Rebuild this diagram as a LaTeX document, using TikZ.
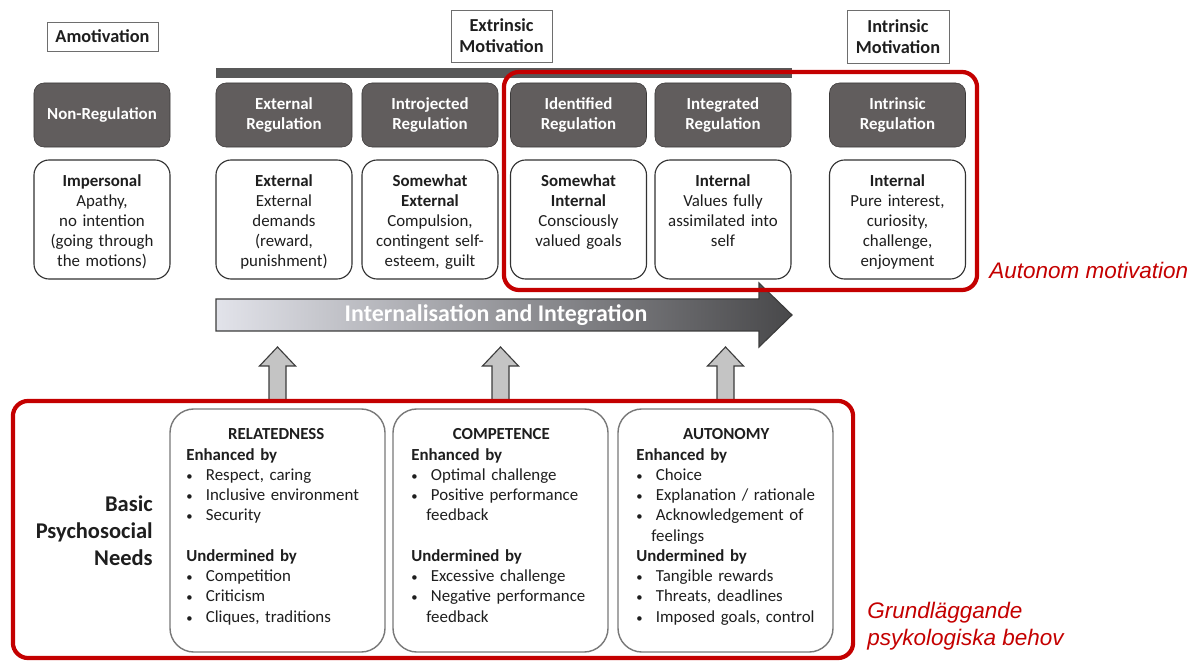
\documentclass[tikz,border=0pt]{standalone}
\usepackage{fontspec}
\setmainfont{Carlito}
\newfontfamily\arialfont{Liberation Sans}
\usepackage{xcolor}
\definecolor{regdark}{RGB}{97,93,93}
\definecolor{regline}{RGB}{60,58,58}
\definecolor{descline}{RGB}{50,50,50}
\definecolor{needline}{RGB}{120,120,120}
\definecolor{headline}{RGB}{110,110,110}
\definecolor{framered}{RGB}{196,0,0}
\definecolor{bardark}{RGB}{88,88,88}
\definecolor{arrlight}{RGB}{226,227,234}
\definecolor{arrdark}{RGB}{72,72,74}
\definecolor{arrline}{RGB}{60,60,60}
\definecolor{upfill}{RGB}{196,196,196}
\definecolor{ink}{RGB}{30,30,30}
\tikzstyle{regbox}=[rectangle, rounded corners=0.25cm, draw=regline, fill=regdark, text=white, align=center, font=\bfseries\fontsize{12}{14}\selectfont, minimum width=3.4cm, minimum height=1.6cm, inner sep=0pt]
\tikzstyle{descbox}=[rectangle, rounded corners=0.38cm, draw=descline, fill=white, line width=0.8pt, minimum width=3.4cm, minimum height=2.975cm, inner sep=0pt]
\tikzstyle{desctext}=[text width=3.3cm, align=center, anchor=base, inner sep=0pt, text=ink, font=\fontsize{12}{14.2}\selectfont]
\tikzstyle{headbox}=[rectangle, draw=headline, fill=white, line width=0.6pt, align=center, text=ink, font=\bfseries\fontsize{13}{14.9}\selectfont, inner sep=0pt]
\tikzstyle{needbox}=[rectangle, rounded corners=0.6cm, draw=needline, fill=white, line width=1pt, minimum width=5.375cm, minimum height=6.075cm, inner sep=0pt]
\tikzstyle{needtext}=[text width=5cm, align=left, anchor=base west, inner sep=0pt, text=ink, font=\fontsize{12}{14.4}\selectfont]
\tikzstyle{redframe}=[rectangle, rounded corners=0.38cm, draw=framered, line width=3pt, inner sep=0pt]
\tikzstyle{redtext}=[text=framered, font=\arialfont\itshape\fontsize{16}{19.1}\selectfont, align=left, anchor=west, inner sep=0pt]
\tikzstyle{blockup}=[draw=arrline, fill=upfill, line width=0.8pt, line join=miter]
\newcommand{\bul}{\makebox[0.49cm][l]{\small\textbullet}}
\newcommand{\needtitle}[1]{\makebox[4.5cm]{\textbf{#1}}}

\begin{document}
\begin{tikzpicture}[x=0.025cm, y=-0.025cm]
\useasboundingbox (0,0) rectangle (1199,662);

\node[headbox, minimum width=2.775cm, minimum height=0.725cm] (amot) at (102.5,36.5) {Amotivation};
\node[headbox, minimum width=2.525cm, minimum height=1.3cm] (extr) at (501.5,36) {Extrinsic\\Motivation};
\node[headbox, minimum width=2.55cm, minimum height=1.325cm] (intr) at (898,36.5) {Intrinsic\\Motivation};
\fill[bardark] (216,68) rectangle (792,78);

\foreach \n/\x/\t in {nonreg/102/Non-Regulation, extreg/284/{External\\Regulation},
  introreg/430/{Introjected\\Regulation}, identreg/578.5/{Identified\\Regulation},
  integreg/723/{Integrated\\Regulation}, intrreg/897.5/{Intrinsic\\Regulation}}
  \node[regbox] (\n) at (\x,115) {\t};

\foreach \n/\x/\t in {
  imp/102/{\textbf{Impersonal}\\Apathy,\\no intention\\(going through\\the motions)},
  ext/284/{\textbf{External}\\External\\demands\\(reward,\\punishment)},
  sext/430/{\textbf{Somewhat}\\\textbf{External}\\Compulsion,\\contingent self-\\esteem, guilt},
  sint/578.5/{\textbf{Somewhat}\\\textbf{Internal}\\Consciously\\valued goals},
  inte/723/{\textbf{Internal}\\Values fully\\assimilated into\\self},
  intn/897.5/{\textbf{Internal}\\Pure interest,\\curiosity,\\challenge,\\enjoyment}}{
  \node[descbox] (\n) at (\x,219.5) {};
  \node[desctext] (\n-txt) at (\x,187) {\t};
}

\shade[left color=arrlight, right color=arrdark, draw=arrline, line width=0.8pt]
  (216,299) -- (759,299) -- (759,283) -- (792,315) -- (759,347) -- (759,331) -- (216,331) -- cycle;
\node[text=white, font=\bfseries\fontsize{17}{20}\selectfont] (integ) at (496,315) {Internalisation and Integration};

\foreach \x in {277.5,500.5,725.5}
  \draw[blockup] (\x-8.5,402) -- (\x-8.5,366) -- (\x-18,366) -- (\x,347) -- (\x+18,366) -- (\x+8.5,366) -- (\x+8.5,402);

\foreach \n/\x in {rel/277.5, comp/500.5, auto/725.5}
  \node[needbox] (\n) at (\x,530.5) {};

\node[needtext] (rel-txt) at (186,440) {\needtitle{RELATEDNESS}\\
  \textbf{Enhanced by}\\ \bul Respect, caring\\ \bul Inclusive environment\\ \bul Security\\ \mbox{}\\
  \textbf{Undermined by}\\ \bul Competition\\ \bul Criticism\\ \bul Cliques, traditions};
\node[needtext] (comp-txt) at (411,440) {\needtitle{COMPETENCE}\\
  \textbf{Enhanced by}\\ \bul Optimal challenge\\ \bul Positive performance\\ \hspace*{0.38cm}feedback\\ \mbox{}\\
  \textbf{Undermined by}\\ \bul Excessive challenge\\ \bul Negative performance\\ \hspace*{0.38cm}feedback};
\node[needtext] (auto-txt) at (636,440) {\needtitle{AUTONOMY}\\
  \textbf{Enhanced by}\\ \bul Choice\\ \bul Explanation / rationale\\ \bul Acknowledgement of\\ \hspace*{0.38cm}feelings\\
  \textbf{Undermined by}\\ \bul Tangible rewards\\ \bul Threats, deadlines\\ \bul Imposed goals, control};

\node[anchor=east, align=right, text=ink, font=\bfseries\fontsize{16}{19.1}\selectfont, inner sep=0pt] (basic) at (153,531) {Basic\\Psychosocial\\Needs};

\node[redframe, minimum width=11.825cm, minimum height=5.45cm] (auton) at (740.5,181) {};
\node[redframe, minimum width=21cm, minimum height=6.425cm] (needs) at (433,529.5) {};
\node[redtext] (automot) at (989,270) {Autonom motivation};
\node[redtext] (grund) at (867,626.5) {Grundläggande\\psykologiska behov};
\end{tikzpicture}
\end{document}
